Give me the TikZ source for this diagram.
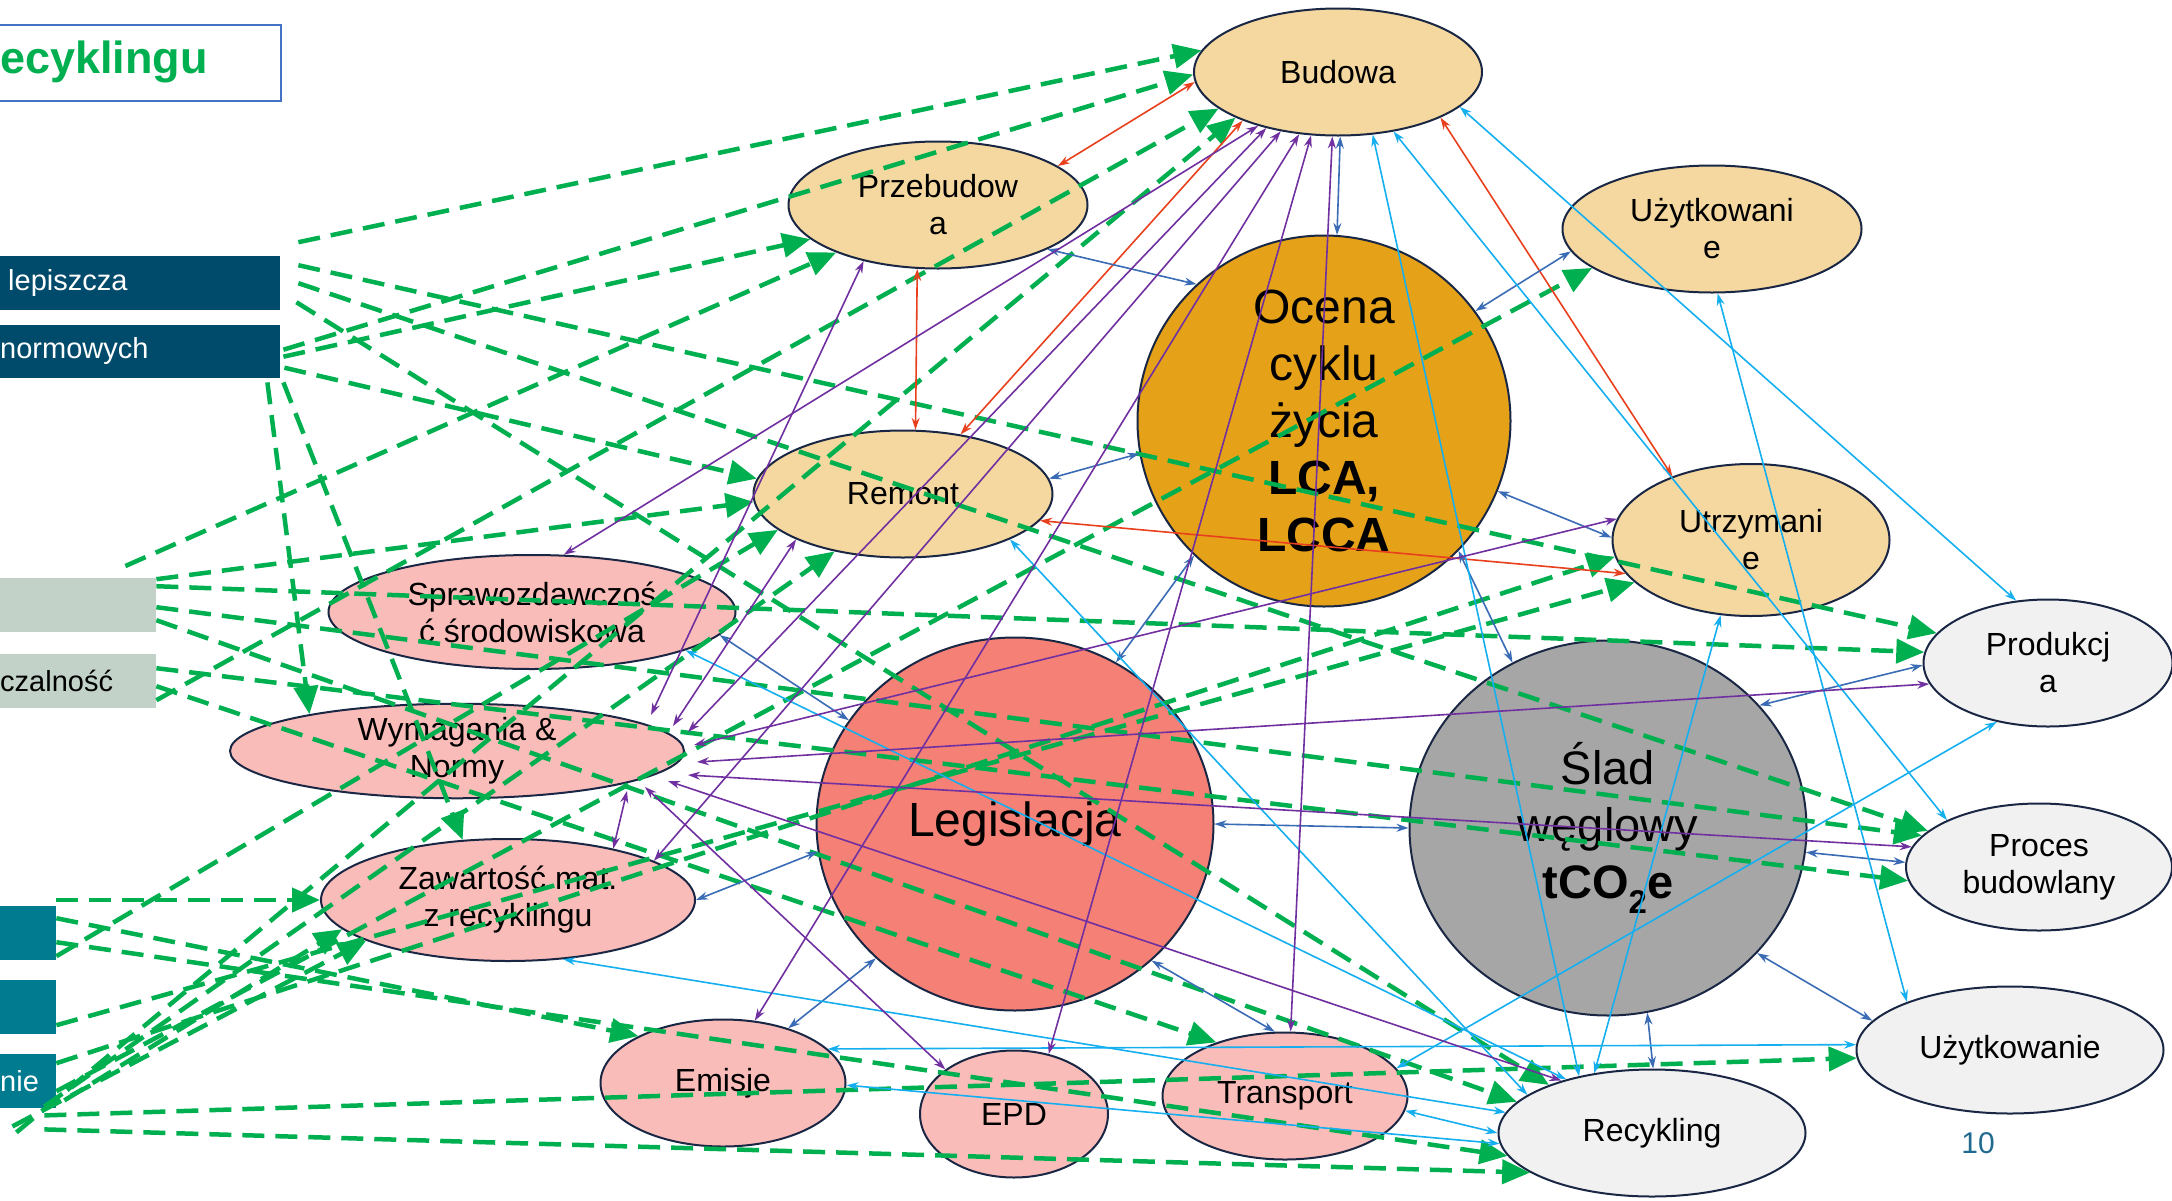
\documentclass[tikz,border=0pt]{standalone}
\usepackage{fontspec}
\setmainfont{Liberation Sans}
\usetikzlibrary{shapes.geometric,arrows.meta,calc}
\definecolor{edgec}{HTML}{1A2744}
\definecolor{tanc}{HTML}{F5D8A0}
\definecolor{lcac}{HTML}{E5A118}
\definecolor{legc}{HTML}{F48076}
\definecolor{pinkc}{HTML}{F9BCB9}
\definecolor{gryc}{HTML}{A6A6A6}
\definecolor{ltgc}{HTML}{F1F1F1}
\definecolor{greenc}{HTML}{00B050}
\definecolor{purpc}{HTML}{7030A0}
\definecolor{redc}{HTML}{E8401C}
\definecolor{steelc}{HTML}{3A6BB5}
\definecolor{cyanc}{HTML}{15AFF0}
\definecolor{boxdark}{HTML}{004B6B}
\definecolor{boxgray}{HTML}{C2D2C8}
\definecolor{boxteal}{HTML}{007B8F}
\definecolor{titleblue}{HTML}{4472C4}
\definecolor{numc}{HTML}{1F6A8E}
\newcommand\lblf{\fontsize{32}{37}\selectfont}
\newcommand\bigf{\fontsize{48}{57}\selectfont}
\newcommand\boxf{\fontsize{29}{34}\selectfont}
\begin{document}
\begin{tikzpicture}[x=1pt,y=-1pt,
  el/.style={ellipse, draw=edgec, line width=2pt, inner sep=0pt, align=center, font=\lblf},
  tanel/.style={el, fill=tanc},
  pinkel/.style={el, fill=pinkc},
  greyel/.style={el, fill=ltgc},
  lbox/.style={rectangle, inner sep=0pt, anchor=north west},
  gd/.style={draw=greenc, line width=4.5pt, dash pattern=on 22pt off 11pt, -{Triangle[length=28pt,width=24pt]}},
  tl/.style={line width=1.6pt, {Stealth[length=12pt,width=8pt]}-{Stealth[length=12pt,width=8pt]}},
  rd/.style={tl, draw=redc},
  sb/.style={tl, draw=steelc},
  cy/.style={tl, draw=cyanc},
  pu/.style={tl, draw=purpc}]
\useasboundingbox (0,0) rectangle (2172,1200);

% left boxes
\node[lbox, draw=titleblue, line width=2pt, minimum width=285pt, minimum height=76pt] (title) at (-5,24) {};
\node[anchor=west, inner sep=0pt, text=greenc, font=\fontsize{45}{50}\selectfont\bfseries] (titletxt) at (0,62) {ecyklingu};
\node[lbox, fill=boxdark, minimum width=285pt, minimum height=54pt] (b1) at (-5,256) {};
\node[anchor=west, inner sep=0pt, text=white, font=\boxf] (b1t) at (8,283) {lepiszcza};
\node[lbox, fill=boxdark, minimum width=285pt, minimum height=53pt] (b2) at (-5,325) {};
\node[anchor=west, inner sep=0pt, text=white, font=\boxf] (b2t) at (0,351) {normowych};
\node[lbox, fill=boxgray, minimum width=161pt, minimum height=54pt] (b3) at (-5,578) {};
\node[lbox, fill=boxgray, minimum width=161pt, minimum height=54pt] (b4) at (-5,654) {};
\node[anchor=west, inner sep=0pt, text=black, font=\boxf] (b4t) at (0,681) {czalność};
\node[lbox, fill=boxteal, minimum width=61pt, minimum height=54pt] (t1) at (-5,906) {};
\node[lbox, fill=boxteal, minimum width=61pt, minimum height=54pt] (t2) at (-5,980) {};
\node[lbox, fill=boxteal, minimum width=61pt, minimum height=54pt] (t3) at (-5,1054) {};
\node[anchor=west, inner sep=0pt, text=white, font=\boxf] (t3t) at (0,1081) {nie};

% ellipses
\node[tanel, minimum width=288pt, minimum height=127pt] (budowa) at (1338,72) {Budowa};
\node[tanel, minimum width=299pt, minimum height=127pt] (przeb) at (938,205) {Przebudow\\a};
\node[tanel, minimum width=299pt, minimum height=127pt] (uzyt1) at (1712,229) {Użytkowani\\e};
\node[el, fill=lcac, minimum width=373pt, minimum height=371pt, font=\bigf] (lca) at (1324,421) {Ocena\\cyklu\\życia\\\textbf{LCA,}\\\textbf{LCCA}};
\node[tanel, minimum width=299pt, minimum height=127pt] (remont) at (903,494) {Remont};
\node[tanel, minimum width=277pt, minimum height=152pt] (utrz) at (1751,540) {Utrzymani\\e};
\node[pinkel, minimum width=407pt, minimum height=114pt] (spraw) at (532,612) {Sprawozdawczoś\\ć środowiskowa};
\node[pinkel, minimum width=454pt, minimum height=83pt] (wymag) at (457,751) {Wymagania \&\\Normy};
\node[el, fill=legc, minimum width=397pt, minimum height=373pt, font=\bigf] (legis) at (1015,824) {Legislacja};
\node[el, fill=gryc, minimum width=397pt, minimum height=375pt, font=\fontsize{47}{57}\selectfont] (slad) at (1608,828) {Ślad\\węglowy\\\textbf{tCO\textsubscript{2}e}};
\node[greyel, minimum width=249pt, minimum height=127pt] (prod) at (2048,663) {Produkcj\\a};
\node[greyel, minimum width=266pt, minimum height=127pt] (proces) at (2039,867) {Proces\\budowlany};
\node[greyel, minimum width=307pt, minimum height=127pt] (uzyt2) at (2010,1050) {Użytkowanie};
\node[greyel, minimum width=307pt, minimum height=127pt] (recyk) at (1652,1133) {Recykling};
\node[pinkel, minimum width=374pt, minimum height=122pt] (zaw) at (508,900) {Zawartość mat.\\z recyklingu};
\node[pinkel, minimum width=245pt, minimum height=127pt] (emisje) at (723,1083) {Emisje};
\node[pinkel, minimum width=188pt, minimum height=127pt] (epd) at (1014,1114) {EPD};
\node[pinkel, minimum width=245pt, minimum height=127pt] (transp) at (1285,1096) {Transport};
\node[text=numc, font=\fontsize{30}{34}\selectfont, inner sep=0pt] (pnum) at (1978,1143) {10};

% green dashed connectors
\draw[gd] ($(b1.east)+(18,-41)$) -- (budowa.171);
\draw[gd] ($(b2.east)+(3,-2)$) -- (budowa.181);
\draw[gd] ($(b2.east)+(3,5)$) -- (przeb.195);
\draw[gd] ($(b3.north east)+(-31,-12)$) -- (przeb.205);
\draw[gd] ($(b4.east)+(0,19)$) -- (budowa.197);
\draw[gd] ($(t3.south east)+(-40,24)$) -- (budowa.204);
\draw[gd] ($(b1.east)+(18,-18)$) -- (prod.165);
\draw[gd] ($(b1.east)+(18,0)$) -- (proces.162);
\draw[gd] ($(b1.east)+(16,19)$) -- (recyk.155);
\draw[gd] ($(b2.east)+(4,16)$) -- (remont.174);
\draw[gd] ($(b2.south east)+(-13,4)$) -- (wymag.166);
\draw[gd] ($(b2.south east)+(3,4)$) -- (zaw.127);
\draw[gd] ($(b3.east)+(0,-26)$) -- (remont.183);
\draw[gd] ($(t1.east)+(0,23)$) -- (remont.196);
\draw[gd] ($(t3.south east)+(-12,-2)$) -- (remont.220);
\draw[gd] ($(t3.east)+(0,10)$) -- (uzyt1.198);
\draw[gd] ($(t3.east)+(0,-18)$) -- (utrz.187);
\draw[gd] ($(t2.east)+(0,18)$) -- (utrz.200);
\draw[gd] ($(b3.east)+(0,-19)$) -- (prod.175);
\draw[gd] ($(b3.east)+(0,2)$) -- (proces.165);
\draw[gd] ($(b4.east)+(0,-13)$) -- (proces.186);
\draw[gd] ($(b4.east)+(0,5)$) -- (transp.142);
\draw[gd] ($(b3.east)+(0,15)$) -- (recyk.167);
\draw[gd] ($(t1.north east)+(0,-6)$) -- (zaw.180);
\draw[gd] ($(t1.east)+(0,-15)$) -- (emisje.151);
\draw[gd] ($(t3.south east)+(8,-8)$) -- (zaw.190);
\draw[gd] ($(t3.south east)+(-44,18)$) -- (zaw.196);
\draw[gd] ($(t3.south east)+(-12,7)$) -- (uzyt2.183);
\draw[gd] ($(t3.south east)+(-12,21)$) -- (recyk.198);
\draw[gd] ($(t1.east)+(0,9)$) -- (recyk.189);

% red
\draw[rd] (przeb.18) -- (budowa.184);
\draw[rd] (przeb.252) -- (remont.79);
\draw[rd] (budowa.207) -- (remont.46);
\draw[rd] (budowa.336) -- (utrz.141);
\draw[rd] (remont.349) -- (utrz.195);
% steel blue
\draw[sb] (budowa.272) -- (lca.86);
\draw[sb] (przeb.338) -- (lca.133);
\draw[sb] (remont.6) -- (lca.190);
\draw[sb] (lca.36) -- (uzyt1.189);
\draw[sb] (lca.338) -- (utrz.179);
\draw[sb] (legis.0) -- (slad.180);
\draw[sb] (slad.39) -- (prod.181);
\draw[sb] (slad.353) -- (proces.178);
\draw[sb] (slad.320) -- (uzyt2.168);
\draw[sb] (slad.282) -- (recyk.89);
\draw[sb] (lca.316) -- (slad.120);
\draw[sb] (lca.226) -- (legis.58);
\draw[sb] (legis.224) -- (emisje.40);
\draw[sb] (legis.315) -- (transp.99);
\draw[sb] (legis.188) -- (zaw.0);
\draw[sb] (spraw.353) -- (legis.148);
% cyan
\draw[cy] (budowa.344) -- (prod.117);
\draw[cy] (budowa.313) -- (proces.153);
\draw[cy] (budowa.299) -- (recyk.142);
\draw[cy] (utrz.248) -- (recyk.134);
\draw[cy] (uzyt1.275) -- (uzyt2.155);
\draw[cy] (remont.337) -- (recyk.163);
\draw[cy] (spraw.346) -- (recyk.148);
\draw[cy] (emisje.18) -- (uzyt2.178);
\draw[cy] (zaw.313) -- (recyk.172);
\draw[cy] (emisje.359) -- (recyk.184);
\draw[cy] (transp.353) -- (recyk.180);
\draw[cy] (transp.14) -- (prod.229);
% purple
\draw[pu] (budowa.214) -- (spraw.61);
\draw[pu] (budowa.218) -- ($(wymag.center)+(231,-19)$);
\draw[pu] (przeb.217) -- ($(wymag.center)+(194,-36)$);
\draw[pu] (remont.203) -- ($(wymag.center)+(216,-25)$);
\draw[pu] (budowa.226) -- (zaw.15);
\draw[pu] (budowa.238) -- (emisje.63);
\draw[pu] (budowa.247) -- (epd.60);
\draw[pu] (budowa.265) -- (transp.85);
\draw[pu] ($(wymag.center)+(237,-6)$) -- (utrz.171);
\draw[pu] ($(wymag.center)+(240,11)$) -- (prod.190);
\draw[pu] ($(wymag.center)+(231,24)$) -- (proces.171);
\draw[pu] ($(wymag.center)+(211,30)$) -- (recyk.150);
\draw[pu] ($(wymag.center)+(188,36)$) -- (epd.147);
\draw[pu] ($(wymag.center)+(170,40)$) -- (zaw.26);
\end{tikzpicture}
\end{document}
